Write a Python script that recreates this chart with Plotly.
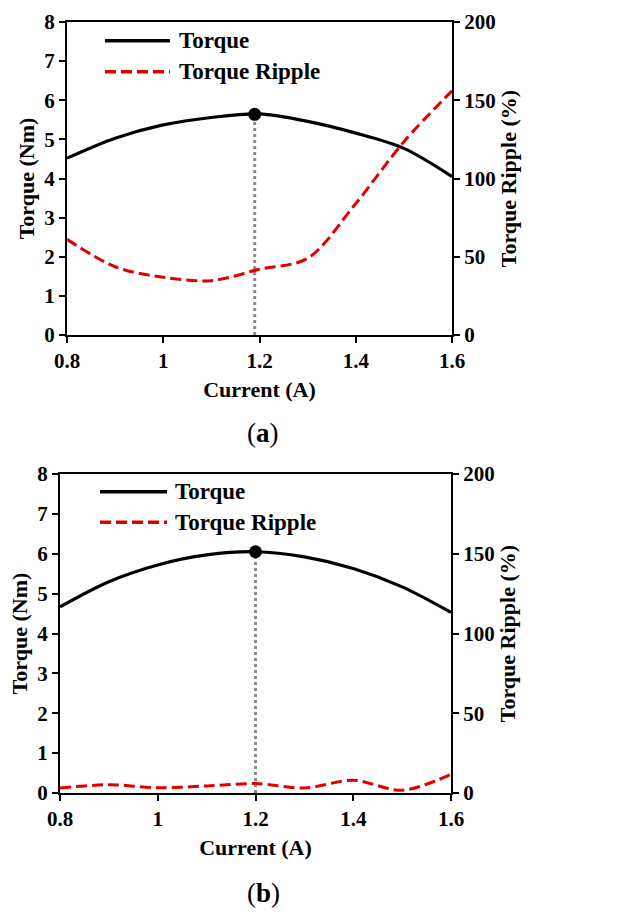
import plotly.graph_objects as go

# ---- data -------------------------------------------------------------
current = [0.8, 0.9, 1.0, 1.1, 1.2, 1.3, 1.4, 1.5, 1.6]

torque_a = [4.52, 5.03, 5.37, 5.56, 5.65, 5.46, 5.16, 4.77, 4.05]
ripple_a = [61.1, 43.6, 36.9, 34.7, 42.0, 49.0, 84.0, 123.5, 156.0]
peak_a = (1.19, 5.64)

torque_b = [4.67, 5.30, 5.72, 5.97, 6.05, 5.92, 5.63, 5.17, 4.53]
ripple_b = [3.1, 5.2, 3.3, 4.4, 5.9, 3.1, 8.0, 1.7, 11.7]
peak_b = (1.2, 6.05)

x_ticks = [0.8, 1.0, 1.2, 1.4, 1.6]
x_ticktext = ["0.8", "1", "1.2", "1.4", "1.6"]
torque_ticks = [0, 1, 2, 3, 4, 5, 6, 7, 8]
ripple_ticks = [0, 50, 100, 150, 200]

# ---- geometry ---------------------------------------------------------
W, H = 624, 912
FONT = "Liberation Serif"


def px_x(p):
    return p / W


def px_y(p):
    return 1 - p / H


panels = [
    # plot-area pixel box: left, right, top, bottom
    dict(box=(67, 452, 22, 335), torque=torque_a, ripple=ripple_a, peak=peak_a,
         label="a", label_xy=(263, 433)),
    dict(box=(60, 451, 474, 793), torque=torque_b, ripple=ripple_b, peak=peak_b,
         label="b", label_xy=(263, 893)),
]

fig = go.Figure()
shapes = []
annotations = []

axis_common = dict(
    showline=True, linecolor="black", linewidth=2,
    ticks="outside", ticklen=6, tickwidth=2, tickcolor="black",
    showgrid=False, zeroline=False, automargin=False,
    tickfont=dict(family=FONT, size=21, color="black", weight="bold"),
    title_font=dict(family=FONT, size=22, color="black", weight="bold"),
)

for i, p in enumerate(panels):
    l, r, t, b = p["box"]
    xn = "x" if i == 0 else "x2"
    yl = "y" if i == 0 else "y3"
    yr = "y2" if i == 0 else "y4"
    xkey = "xaxis" if i == 0 else "xaxis2"
    ylkey = "yaxis" if i == 0 else "yaxis3"
    yrkey = "yaxis2" if i == 0 else "yaxis4"

    # Torque (left axis) and torque ripple (right axis)
    fig.add_trace(go.Scatter(
        x=current, y=p["torque"], xaxis=xn, yaxis=yl, mode="lines",
        line=dict(color="black", width=3.2, shape="spline", smoothing=0.9),
        showlegend=False, name="Torque"))
    fig.add_trace(go.Scatter(
        x=current, y=p["ripple"], xaxis=xn, yaxis=yr, mode="lines",
        line=dict(color="#e00000", width=3, dash="11px,5px", shape="spline", smoothing=0.9),
        showlegend=False, name="Torque Ripple"))

    # peak torque marker with dotted drop line
    px_, py_ = p["peak"]
    fig.add_trace(go.Scatter(
        x=[px_, px_], y=[0, py_], xaxis=xn, yaxis=yl, mode="lines",
        line=dict(color="#8c8c8c", width=3, dash="dot"), showlegend=False,
        hoverinfo="skip"))
    fig.add_trace(go.Scatter(
        x=[px_], y=[py_], xaxis=xn, yaxis=yl, mode="markers",
        marker=dict(color="black", size=13), showlegend=False, name="Peak"))

    dom_x = [px_x(l), px_x(r)]
    dom_y = [px_y(b), px_y(t)]

    fig.layout[xkey] = dict(
        axis_common, domain=dom_x, anchor=yl, range=[0.8, 1.6],
        tickvals=x_ticks, ticktext=x_ticktext, mirror=True,
        title=dict(text="Current (A)", standoff=9))
    fig.layout[ylkey] = dict(
        axis_common, domain=dom_y, anchor=xn, range=[0, 8],
        tickvals=torque_ticks, title=dict(text="Torque (Nm)", standoff=4))
    fig.layout[yrkey] = dict(
        axis_common, overlaying=yl, side="right", anchor=xn, range=[0, 200],
        tickvals=ripple_ticks, title=dict(text="Torque Ripple (%)", standoff=4))

    # legend drawn inside the plot area
    if i == 0:
        lx0, lx1, tx, ly1, ly2 = 105, 170, 177, 40.7, 71.7
    else:
        lx0, lx1, tx, ly1, ly2 = 100, 167, 173, 491.7, 522.3
    shapes.append(dict(type="line", xref="paper", yref="paper",
                       x0=px_x(lx0), x1=px_x(lx1), y0=px_y(ly1), y1=px_y(ly1),
                       line=dict(color="black", width=3.5)))
    shapes.append(dict(type="line", xref="paper", yref="paper",
                       x0=px_x(lx0), x1=px_x(lx1), y0=px_y(ly2), y1=px_y(ly2),
                       line=dict(color="#e00000", width=3.5, dash="11px,5px")))
    for txt, yy in (("Torque", ly1), ("Torque Ripple", ly2)):
        annotations.append(dict(
            text=f"<b>{txt}</b>", xref="paper", yref="paper",
            x=px_x(tx), y=px_y(yy), xanchor="left", yanchor="middle",
            showarrow=False, font=dict(family=FONT, size=23, color="black")))

    # panel label
    lxp, lyp = p["label_xy"]
    annotations.append(dict(
        text=f"(<b>{p['label']}</b>)", xref="paper", yref="paper",
        x=px_x(lxp), y=px_y(lyp), xanchor="center", yanchor="middle",
        showarrow=False, font=dict(family=FONT, size=27, color="black")))

fig.update_layout(
    width=W, height=H,
    margin=dict(l=0, r=0, t=0, b=0),
    paper_bgcolor="white", plot_bgcolor="white",
    shapes=shapes, annotations=annotations,
    showlegend=False,
)

fig.write_html("out.html")
